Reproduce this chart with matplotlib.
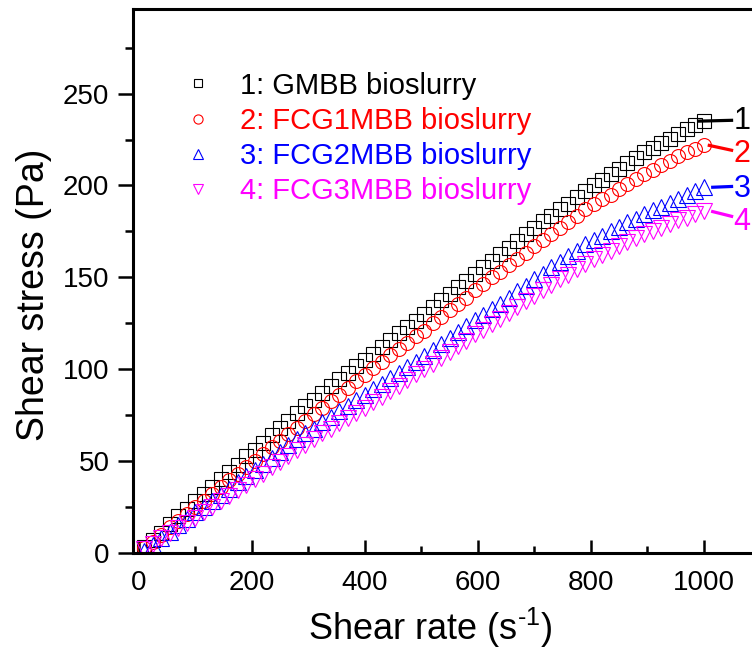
import matplotlib
matplotlib.use("Agg")
import matplotlib.pyplot as plt
from matplotlib.ticker import MultipleLocator

plt.rcParams['font.family'] = ['Liberation Sans', 'DejaVu Sans']
plt.rcParams['mathtext.fontset'] = 'custom'
plt.rcParams['mathtext.rm'] = 'Liberation Sans'
plt.rcParams['mathtext.it'] = 'Liberation Sans:italic'

# shear rate grid (s^-1)
shear_rate = [10, 25, 40, 55, 70, 85, 100, 115, 130, 145, 160, 175, 190, 205, 220, 235,
              250, 265, 280, 295, 310, 325, 340, 355, 370, 385, 400, 415, 430, 445, 460,
              475, 490, 505, 520, 535, 550, 565, 580, 595, 610, 625, 640, 655, 670, 685,
              700, 715, 730, 745, 760, 775, 790, 805, 820, 835, 850, 865, 880, 895, 910,
              925, 940, 955, 970, 985, 1000]

# shear stress (Pa)
gmbb = [3, 7, 11, 15.5, 20, 24, 28, 32, 36, 40, 44, 48, 52.5, 56, 60, 64, 68, 72, 76, 80,
        83.5, 87, 91, 94.5, 98, 101.5, 105, 108.5, 112, 116, 119.5, 123, 126.5, 130, 134,
        137.5, 141, 144.5, 148, 152, 155.5, 159, 162.5, 166, 170, 173.5, 177, 180.5, 183.5,
        187, 190, 193.5, 197, 200, 203, 206, 209, 212, 215, 218, 220.5, 223, 225.5, 228,
        230.5, 233, 235]
fcg1 = [2.5, 6, 10, 14, 17.5, 21, 25, 28.5, 32, 36, 39.5, 43, 46.5, 50, 54, 57.5, 61, 64.5,
        68, 72, 75.5, 79, 82.5, 86, 90, 93.5, 97, 100.5, 104, 107.5, 111, 114.5, 118, 121,
        125, 128.5, 132, 135.5, 139, 143, 146.5, 150, 153, 156.5, 160, 163.5, 167, 170.5,
        173.5, 177, 180, 183.5, 187, 190, 192.5, 195, 198, 201, 203.5, 206, 208.5, 211,
        213.5, 216, 218, 220, 222]
fcg2 = [1, 4.5, 8, 11.5, 15, 18.5, 22, 25, 28.5, 31.5, 35, 38.5, 42, 45, 48.5, 51.5, 55,
        58.5, 62, 65, 67.5, 71, 74, 77, 80, 83, 86, 89, 92, 95, 98, 101, 104, 107, 110.5,
        113.5, 117, 120, 123.5, 127, 129.5, 132.5, 135.5, 139, 142.5, 145.5, 149, 152,
        155.5, 158.5, 161.5, 164.5, 168, 170.5, 172.5, 175, 177.5, 180, 182, 184.5, 186.5,
        188.5, 190.5, 192.5, 195, 197, 199]
fcg3 = [2, 5, 8, 11, 13.5, 16.5, 19, 22, 25, 28, 31, 34, 37, 40, 43, 46.5, 49.5, 52.5, 56,
        59, 62, 65, 67.5, 70.5, 73.5, 76, 79, 82, 85, 88, 91, 94, 97.5, 100, 103, 106, 109.5,
        112.5, 115.5, 119, 121.5, 124.5, 127.5, 130.5, 134, 137, 140, 143, 146, 149, 151.5,
        154.5, 157.5, 160, 162, 164.5, 167, 169, 171.5, 173.5, 175, 177, 179, 181, 182.5,
        184.5, 186]

series = [gmbb, fcg1, fcg2, fcg3]
names = ['1: GMBB bioslurry', '2: FCG1MBB bioslurry', '3: FCG2MBB bioslurry', '4: FCG3MBB bioslurry']
colors = ['black', 'red', 'blue', 'magenta']
markers = ['s', 'o', '^', 'v']
msizes = [9.5, 10, 11, 11]
tags = ['1', '2', '3', '4']
tag_y = [235, 217, 198, 180]
lead_start = [988, 1007, 1013, 1013]
lead_end_y = [235.5, 219, 199.5, 183]

fig = plt.figure(figsize=(7.52, 6.52), dpi=100)
ax = fig.add_axes([0.177, 0.152, 0.834, 0.834])

for y, name, c, m, ms in zip(series, names, colors, markers, msizes):
    ax.plot(shear_rate, y, linestyle='none', marker=m, markersize=ms,
            markerfacecolor='none', markeredgecolor=c, markeredgewidth=0.8, label=name)

# numbered tags with short leader lines at the right end
for y, t, c, ty, x0, ye in zip(series, tags, colors, tag_y, lead_start, lead_end_y):
    ax.plot([x0, 1052], [y[-1], ye], color=c, lw=2.3, solid_capstyle='butt')
    ax.text(1068, ty, t, color=c, fontsize=22, ha='center', va='center')

ax.set_xlim(-10, 1100)
ax.set_ylim(0, 296)
ax.xaxis.set_minor_locator(MultipleLocator(100))
ax.yaxis.set_major_locator(MultipleLocator(50))
ax.yaxis.set_minor_locator(MultipleLocator(25))
ax.set_xticks([0, 200, 400, 600, 800, 1000])

ax.tick_params(axis='x', which='major', direction='in', length=9.5, width=1.8, labelsize=20, pad=12)
ax.tick_params(axis='x', which='minor', direction='in', length=5, width=1.8)
ax.tick_params(axis='y', which='major', direction='out', length=11, width=1.8, labelsize=20, pad=6)
ax.tick_params(axis='y', which='minor', direction='out', length=5.5, width=1.8)
for s in ax.spines.values():
    s.set_linewidth(2.2)

ax.set_xlabel(r'Shear rate (s$^{\text{-1}}$)', fontsize=26)
ax.xaxis.set_label_coords(0.474, -0.097)
ax.set_ylabel('Shear stress (Pa)', fontsize=27)
ax.yaxis.set_label_coords(-0.13, 0.475)

leg = ax.legend(loc='upper left', bbox_to_anchor=(0.057, 0.912), frameon=False, fontsize=21,
                markerscale=0.66, handlelength=1.0, handletextpad=0.95, labelspacing=0.25,
                borderpad=0)
for txt, c in zip(leg.get_texts(), colors):
    txt.set_color(c)

fig.savefig('out.png', dpi=100)
